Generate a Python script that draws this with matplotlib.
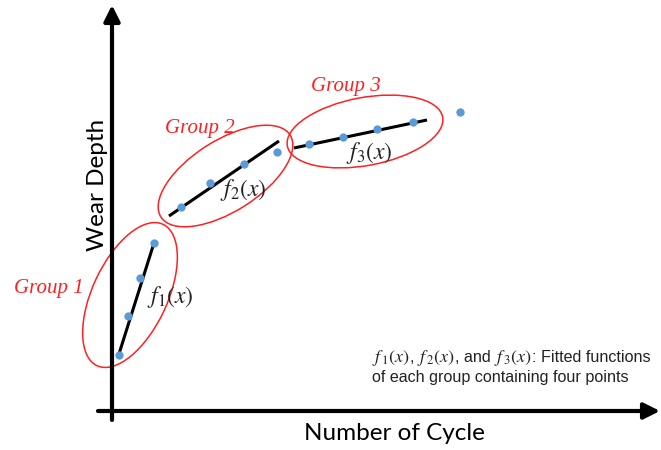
import matplotlib
matplotlib.use("Agg")
import matplotlib.pyplot as plt
from matplotlib.patches import Ellipse
from matplotlib.transforms import offset_copy
import numpy as np

# ---- data (x: number of cycle, y: wear depth; arbitrary units) ----
cycle_g1 = [7, 16, 28, 42]
depth_g1 = [56, 95, 133, 168]
cycle_g2 = [69, 98, 132, 165]
depth_g2 = [204, 228, 247, 259]
cycle_g3 = [197, 231, 265, 301]
depth_g3 = [267, 274, 282, 289]
cycle_extra = [348]
depth_extra = [299]

fit1_x = [6, 42]
fit1_y = [54, 168]
fit2_x = [57, 167]
fit2_y = [195, 270]
fit3_x = [182, 315]
fit3_y = [263, 291]

group_labels = ["Group 1", "Group 2", "Group 3"]
func_labels = [r"$f_1(x)$", r"$f_2(x)$", r"$f_3(x)$"]
xlabel = "Number of Cycle"
ylabel = "Wear Depth"
note_line1 = [(r"$f_{\,1}(x)$", "math"), (",", "text"), (r"$f_{\,2}(x)$", "math"),
              (", and", "text"), (r"$f_{\,3}(x)$", "math"), (": Fitted functions", "text")]
note_line2 = "of each group containing four points"

plt.rcParams['mathtext.fontset'] = 'stix'

fig = plt.figure(figsize=(6.61, 4.5), dpi=100)
ax = fig.add_axes([0, 0, 1, 1])
ax.set_xlim(-112, 549)
ax.set_ylim(-39, 411)
ax.set_aspect('equal', adjustable='box')
ax.axis('off')

# axes with arrows
arrow_kw = dict(arrowstyle='-|>,head_length=0.4,head_width=0.2', color='black',
                lw=3, shrinkA=0, shrinkB=0, mutation_scale=24)
ax.annotate('', xy=(0, 406), xytext=(0, -9), arrowprops=arrow_kw)
ax.annotate('', xy=(548, 0), xytext=(-14, 0), arrowprops=arrow_kw)

# ellipses
ell_kw = dict(fill=False, edgecolor='#FF2020', lw=1.1)
ax.add_patch(Ellipse((18, 116), 156, 75, angle=65, **ell_kw))
ax.add_patch(Ellipse((113.5, 235), 153, 71, angle=32.4, **ell_kw))
ax.add_patch(Ellipse((253, 279.5), 158, 68, angle=10.5, **ell_kw))

# fitted lines
for fx, fy in [(fit1_x, fit1_y), (fit2_x, fit2_y), (fit3_x, fit3_y)]:
    ax.plot(fx, fy, color='black', lw=2.2, solid_capstyle='butt', zorder=3)

# points
pt_color = '#5B9BD5'
for cx, cy in [(cycle_g1, depth_g1), (cycle_g2, depth_g2), (cycle_g3, depth_g3),
               (cycle_extra, depth_extra)]:
    ax.scatter(cx, cy, s=36, color=pt_color, zorder=4, linewidths=0)

# group labels
gpos = [(-63, 123), (87.5, 283), (234, 324)]
for lab, (gx, gy) in zip(group_labels, gpos):
    ax.text(gx, gy, lab, color='#FF2020', fontsize=15, family='Liberation Serif',
            style='italic', ha='center', va='center')

# function labels
fpos = [(58, 114), (131, 221), (257, 258)]
for lab, (fx, fy) in zip(func_labels, fpos):
    ax.text(fx, fy, lab, color='#222222', fontsize=17, ha='center', va='center')

# axis labels
ax.text(282, -23, xlabel, fontsize=17.5, family='Lato', ha='center', va='center')
ax.text(-15, 226, ylabel, fontsize=17.5, family='Lato', ha='center', va='center',
        rotation=90)

# note (first line built from pieces so the math can be larger)
fig.canvas.draw()
renderer = fig.canvas.get_renderer()
xoff = 0.0
for i, (s, kind) in enumerate(note_line1):
    if i > 0:
        xoff += 3.0 if kind == "math" else 0.5
    tr = offset_copy(ax.transData, fig=fig, x=xoff, y=0, units='dots')
    if kind == "math":
        t = ax.text(260, 49, s, fontsize=13, ha='left', va='baseline',
                    color='#222222', transform=tr)
    else:
        t = ax.text(260, 49, s, fontsize=11.6, family='Liberation Sans',
                    ha='left', va='baseline', color='#222222', transform=tr)
    xoff += t.get_window_extent(renderer).width
ax.text(260, 29, note_line2, fontsize=11.6, family='Liberation Sans',
        ha='left', va='baseline', color='#222222')

fig.savefig('out.png', dpi=100)
